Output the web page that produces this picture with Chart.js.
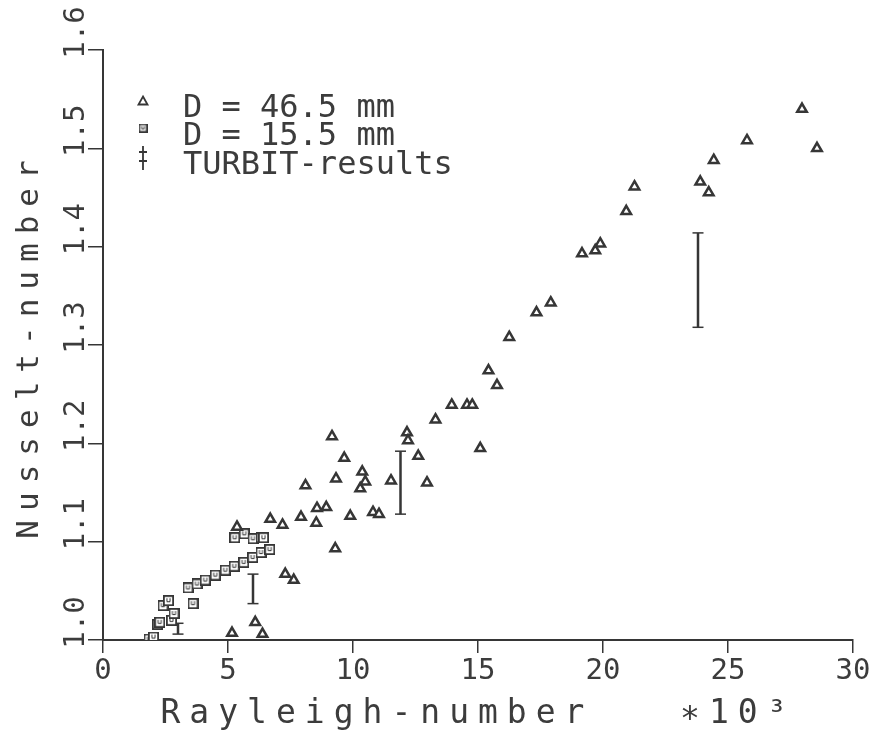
<!DOCTYPE html>
<html>
<head>
<meta charset="utf-8">
<title>Nusselt-number vs Rayleigh-number</title>
<script src="https://cdn.jsdelivr.net/npm/chart.js@4.4.0/dist/chart.umd.min.js"></script>
<style>
  html, body { margin: 0; padding: 0; background: #fff; }
  #nu-canvas { display: block; }
</style>
</head>
<body>
<canvas id="nu-canvas" width="880" height="740"></canvas>
<script>
// D = 46.5 mm  (triangles), Rayleigh-number in units of 10^3
const bigRa = [5.16, 6.09, 6.38, 5.36, 6.69, 7.18, 7.29, 7.63, 7.92, 8.10,
               8.53, 8.56, 8.93, 9.16, 9.29, 9.32, 9.65, 9.89, 10.29, 10.37,
               10.49, 10.80, 11.04, 11.52, 12.16, 12.20, 12.61, 12.96, 13.30, 13.95,
               14.56, 14.77, 15.09, 15.42, 15.76, 16.25, 17.34, 17.91, 19.16, 19.69,
               19.89, 20.93, 21.26, 23.89, 24.23, 24.43, 25.76, 27.96, 28.56];
const bigNu = [1.007, 1.018, 1.006, 1.115, 1.123, 1.117, 1.067, 1.061, 1.125, 1.157,
               1.119, 1.134, 1.135, 1.207, 1.093, 1.164, 1.185, 1.126, 1.154, 1.171,
               1.161, 1.130, 1.128, 1.162, 1.211, 1.203, 1.187, 1.160, 1.224, 1.239,
               1.239, 1.239, 1.195, 1.274, 1.259, 1.308, 1.333, 1.343, 1.393, 1.396,
               1.403, 1.436, 1.461, 1.466, 1.455, 1.488, 1.508, 1.540, 1.500];

// D = 15.5 mm  (squares)
const smallRa = [1.84, 2.02, 2.18, 2.27, 2.40, 2.62, 2.74, 2.84, 3.40, 3.60,
                 3.76, 4.09, 4.49, 4.89, 5.25, 5.63, 5.99, 6.32, 6.67, 5.27,
                 5.65, 6.00, 6.33, 6.42];
const smallNu = [1.001, 1.003, 1.016, 1.018, 1.035, 1.040, 1.020, 1.027, 1.053, 1.037,
                 1.057, 1.061, 1.066, 1.071, 1.075, 1.079, 1.084, 1.089, 1.092, 1.104,
                 1.108, 1.103, 1.104, 1.104];

// TURBIT-results (error bars, low / high)
const turbitRa = [3.0, 6.0, 11.9, 23.8];
const turbitLow = [1.006, 1.037, 1.128, 1.318];
const turbitHigh = [1.017, 1.067, 1.192, 1.414];

const seriesLabels = ['D = 46.5 mm', 'D = 15.5 mm', 'TURBIT-results'];
const xTickLabels = ['0', '5', '10', '15', '20', '25', '30'];
const yTickLabels = ['1.0', '1.1', '1.2', '1.3', '1.4', '1.5', '1.6'];
const xTitle = 'Rayleigh-number   \u221710\u00b3';
const yTitle = 'Nusselt-number';

const INK = '#363636';
const TEXT = '#3c3c3c';
const FONT = '"DejaVu Sans Mono", "Liberation Mono", monospace';

Chart.defaults.font.family = FONT;
Chart.defaults.color = TEXT;

// square marker with the little "u" inside, like the plotter symbol
function squareMark(size, lw) {
  const c = document.createElement('canvas');
  c.width = size; c.height = size;
  const g = c.getContext('2d');
  g.fillStyle = '#fff';
  g.fillRect(0, 0, size, size);
  g.strokeStyle = INK;
  g.lineWidth = lw;
  const o = lw / 2;
  g.strokeRect(o, o, size - lw, size - lw);
  g.lineWidth = 1;
  g.beginPath();
  g.moveTo(size * 0.36, size * 0.28);
  g.lineTo(size * 0.36, size * 0.6);
  g.lineTo(size * 0.64, size * 0.6);
  g.lineTo(size * 0.64, size * 0.28);
  g.stroke();
  return c;
}

function turbitPoints() {
  let pts = [];
  for (let i = 0; i < turbitRa.length; i++) {
    pts.push({x: turbitRa[i], y: turbitLow[i]});
    pts.push({x: turbitRa[i], y: turbitHigh[i]});
    pts.push({x: turbitRa[i], y: null});
  }
  return pts;
}

// tick labels, rotated y labels and the legend box drawn in plotter style
const plotterText = {
  id: 'plotterText',
  beforeDraw(chart) {
    // wide spacing for the axis titles
    chart.ctx.letterSpacing = '9px';
  },
  afterDraw(chart) {
    const ctx = chart.ctx;
    ctx.save();
    ctx.letterSpacing = '0px';
    ctx.fillStyle = TEXT;
    ctx.font = '29px ' + FONT;
    ctx.textBaseline = 'alphabetic';

    const xs = chart.scales.x;
    ctx.textAlign = 'center';
    xs.ticks.forEach((t, i) => {
      ctx.fillText(xTickLabels[i], xs.getPixelForValue(t.value), 679);
    });

    const ys = chart.scales.y;
    ys.ticks.forEach((t, i) => {
      ctx.save();
      ctx.translate(84, ys.getPixelForValue(t.value) + 8.7);
      ctx.rotate(-Math.PI / 2);
      ctx.textAlign = 'left';
      ctx.fillText(yTickLabels[i], 0, 0);
      ctx.restore();
    });

    // legend
    const rows = [101, 128, 157];
    const bases = [117, 145, 174];
    const mx = 143;
    ctx.font = '32px ' + FONT;
    ctx.textAlign = 'left';
    ctx.strokeStyle = INK;
    chart.data.datasets.forEach((ds, i) => {
      const cy = rows[i];
      ctx.lineWidth = 1.8;
      ctx.beginPath();
      if (i === 0) {
        ctx.moveTo(mx, cy - 4.5);
        ctx.lineTo(mx + 4.5, cy + 3.5);
        ctx.lineTo(mx - 4.5, cy + 3.5);
        ctx.closePath();
        ctx.stroke();
      } else if (i === 1) {
        ctx.drawImage(squareMark(9, 1.6), mx - 4.5, cy - 4.5);
      } else {
        ctx.moveTo(mx, cy - 11); ctx.lineTo(mx, cy + 13);
        ctx.moveTo(mx - 4, cy - 5); ctx.lineTo(mx + 4, cy - 5);
        ctx.moveTo(mx - 4, cy + 4); ctx.lineTo(mx + 4, cy + 4);
        ctx.stroke();
      }
      ctx.fillText(ds.label, 183, bases[i]);
    });
    ctx.restore();
  }
};

new Chart('nu-canvas', {
  type: 'scatter',
  data: {
    datasets: [{
      label: seriesLabels[0],
      data: bigRa.map((x, i) => ({x: x, y: bigNu[i]})),
      pointStyle: 'triangle',
      pointRadius: 5.5,
      pointHoverRadius: 5.5,
      borderWidth: 2.5,
      borderColor: INK,
      backgroundColor: '#fff'
    }, {
      label: seriesLabels[1],
      data: smallRa.map((x, i) => ({x: x, y: smallNu[i]})),
      pointStyle: squareMark(11, 1.8),
      borderColor: INK,
      backgroundColor: '#fff'
    }, {
      label: seriesLabels[2],
      data: turbitPoints(),
      showLine: true,
      spanGaps: false,
      borderColor: INK,
      borderWidth: 2.5,
      pointStyle: 'line',
      pointRadius: 5.5,
      pointHoverRadius: 5.5,
      pointBorderWidth: 1.5,
      pointBorderColor: INK
    }]
  },
  options: {
    responsive: false,
    animation: false,
    devicePixelRatio: 1,
    events: [],
    layout: { padding: { left: 7, right: 27, top: 50, bottom: 2 } },
    plugins: {
      legend: { display: false },
      tooltip: { enabled: false }
    },
    scales: {
      x: {
        type: 'linear',
        min: 0,
        max: 30,
        afterFit: (s) => { s.height = 98; },
        ticks: { stepSize: 5, display: false, callback: (v, i) => xTickLabels[i] },
        grid: { drawOnChartArea: false, drawTicks: true, tickLength: 13, color: INK, lineWidth: 1.5 },
        border: { display: true, color: INK, width: 2 },
        title: { display: true, text: xTitle, color: TEXT, font: { size: 33, family: FONT }, padding: { top: 4, bottom: 4 } }
      },
      y: {
        type: 'linear',
        min: 1.0,
        max: 1.6,
        afterFit: (s) => { s.width = 96; },
        ticks: { stepSize: 0.1, display: false, callback: (v, i) => yTickLabels[i] },
        grid: { drawOnChartArea: false, drawTicks: true, tickLength: 15, color: INK, lineWidth: 1.5 },
        border: { display: true, color: INK, width: 2 },
        title: { display: true, text: yTitle, color: TEXT, font: { size: 31, family: FONT }, padding: { top: 4, bottom: 4 } }
      }
    }
  },
  plugins: [plotterText]
});
</script>
</body>
</html>
